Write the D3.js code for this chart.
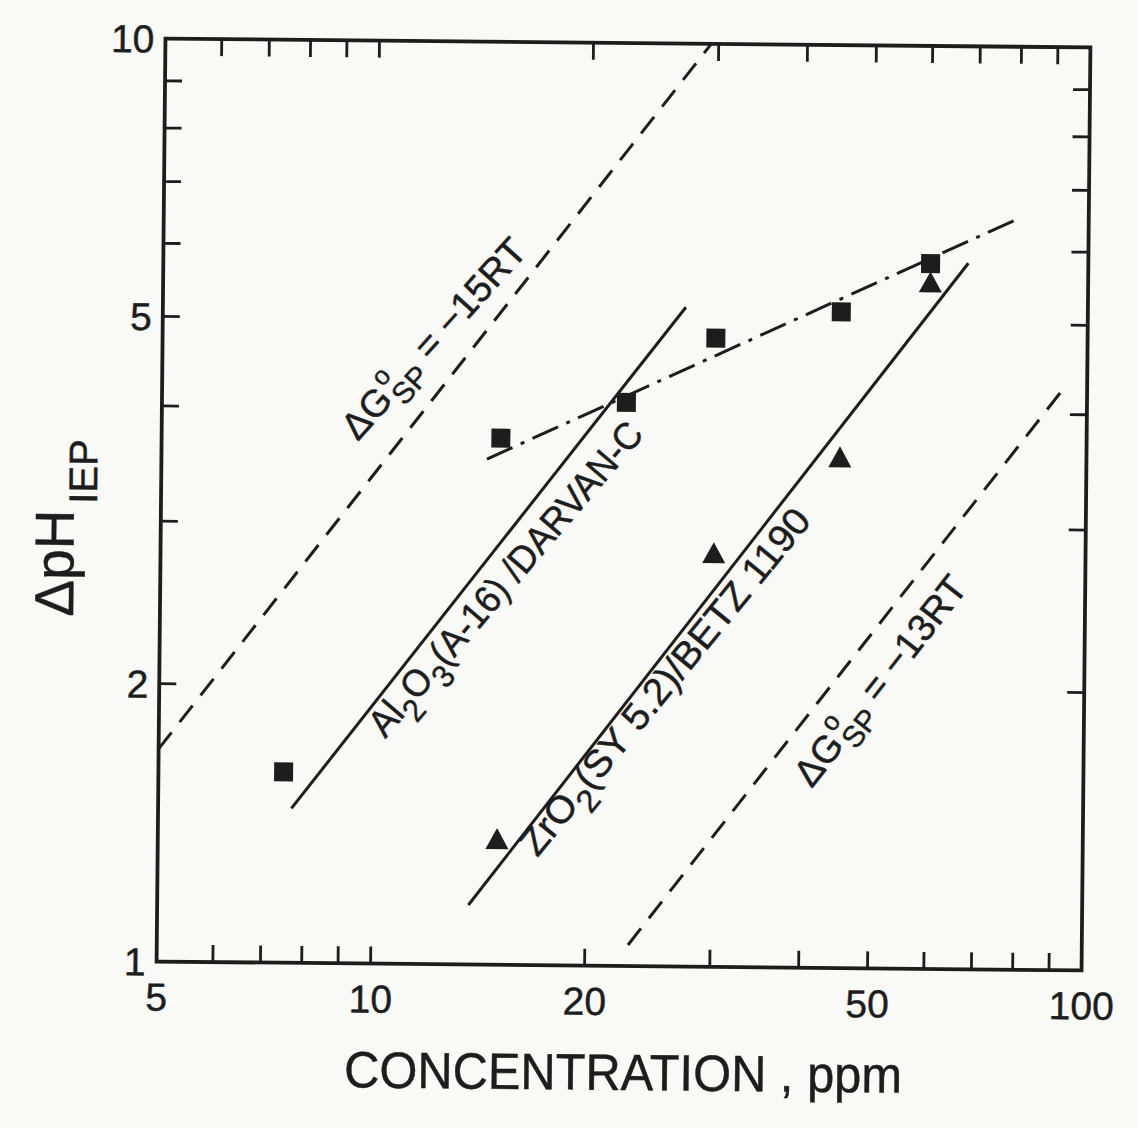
<!DOCTYPE html>
<html><head><meta charset="utf-8">
<script src="https://cdn.jsdelivr.net/npm/d3@7"></script>
<style>body{margin:0;background:#f9f9f8;} svg{display:block;}</style>
</head><body><svg id="c" width="1138" height="1128"></svg>
<script>
// ---- data ----
const xTickValues = [5, 10, 20, 50, 100];
const xTickLabels = ["5", "10", "20", "50", "100"];
const xMinorTicks = [6, 7, 8, 9, 10, 20, 30, 40, 50, 60, 70, 80, 90];
const yTickValues = [1, 2, 5, 10];
const yTickLabels = ["1", "2", "5", "10"];
const yMinorTicks = [2, 3, 4, 5, 6, 7, 8, 9];

const al2o3Conc = [7.5, 15, 22.5, 30, 45, 60];
const al2o3DpH  = [1.61, 3.72, 4.08, 4.80, 5.14, 5.81];
const zro2Conc  = [15, 30, 45, 60];
const zro2DpH   = [1.37, 2.81, 3.58, 5.55];

const al2o3FitConc = [7.7, 27.2];  const al2o3FitDpH = [1.47, 5.18];
const zro2FitConc  = [13.7, 67.8]; const zro2FitDpH  = [1.16, 5.82];
const dashDotConc  = [14.35, 78.8]; const dashDotDpH = [3.53, 6.49];
const dg15Conc     = [5, 29.3];    const dg15DpH     = [1.70, 10];
const dg13Conc     = [23.0, 94];   const dg13DpH     = [1.054, 4.33];

const xTitle = "CONCENTRATION , ppm";
const al2o3Label = ["Al", "2", "O", "3", "(A-16) /DARVAN-C"];
const zro2Label  = ["ZrO", "2", "(SY 5.2)/BETZ 1190"];

// ---- layout ----
const L = 161, R = 1086, T = 43, B = 966;
const ink = "#1d1d1d";
const font = "'Liberation Sans', Arial, sans-serif";

const svg = d3.select("#c");
const root = svg.append("g").attr("transform", `rotate(0.55 ${(L+R)/2} ${(T+B)/2})`)
  .attr("font-family", font).attr("fill", ink);
const txt = root.append("g").attr("stroke", ink).attr("stroke-width", 0.45);

const x = d3.scaleLog().domain([5, 100]).range([L, R]);
const y = d3.scaleLog().domain([1, 10]).range([B, T]);

// frame
root.append("rect").attr("x", L).attr("y", T).attr("width", R - L).attr("height", B - T)
  .attr("fill", "none").attr("stroke", ink).attr("stroke-width", 3.8);

// ticks (inward, all four sides)
const tl = 17;
const tg = root.append("g").attr("stroke", ink).attr("stroke-width", 2.8);
xMinorTicks.forEach(v => {
  tg.append("line").attr("x1", x(v)).attr("x2", x(v)).attr("y1", B).attr("y2", B - tl);
  tg.append("line").attr("x1", x(v)).attr("x2", x(v)).attr("y1", T).attr("y2", T + tl);
});
yMinorTicks.forEach(v => {
  tg.append("line").attr("y1", y(v)).attr("y2", y(v)).attr("x1", L).attr("x2", L + tl);
  tg.append("line").attr("y1", y(v)).attr("y2", y(v)).attr("x1", R).attr("x2", R - tl);
});

// tick labels
xTickValues.forEach((v, i) => {
  txt.append("text").attr("x", x(v)).attr("y", B + 49).attr("text-anchor", "middle")
    .attr("font-size", 39).text(xTickLabels[i]);
});
yTickValues.forEach((v, i) => {
  txt.append("text").attr("x", L - 11).attr("y", y(v) + 14).attr("text-anchor", "end")
    .attr("font-size", 39).text(yTickLabels[i]);
});

// axis titles
txt.append("text").attr("x", (L + R) / 2 + 5).attr("y", B + 124).attr("text-anchor", "middle")
  .attr("font-size", 51).attr("textLength", 558).attr("lengthAdjust", "spacingAndGlyphs").text(xTitle);

const yt = txt.append("text").attr("transform", `translate(74,622) rotate(-90)`).attr("font-size", 55);
yt.append("tspan").text("ΔpH");
yt.append("tspan").attr("font-size", 40).attr("dx", 6).attr("dy", 23).text("IEP");

// lines
const lineGen = d3.line().x(d => x(d[0])).y(d => y(d[1]));
function drawLine(cs, vs, dash) {
  root.append("path").datum(cs.map((c, i) => [c, vs[i]])).attr("d", lineGen)
    .attr("fill", "none").attr("stroke", ink).attr("stroke-width", 3)
    .attr("stroke-dasharray", dash);
}
drawLine(dg15Conc, dg15DpH, "21,13");
drawLine(dg13Conc, dg13DpH, "21,13");
drawLine(al2o3FitConc, al2o3FitDpH, null);
drawLine(zro2FitConc, zro2FitDpH, null);
drawLine(dashDotConc, dashDotDpH, "28,9,4,9");

// markers
const sq = 19;
root.append("g").selectAll("rect").data(al2o3Conc.map((c, i) => [c, al2o3DpH[i]])).join("rect")
  .attr("x", d => x(d[0]) - sq / 2).attr("y", d => y(d[1]) - sq / 2)
  .attr("width", sq).attr("height", sq).attr("fill", ink);
const tw = 23, th = 21;
root.append("g").selectAll("path").data(zro2Conc.map((c, i) => [c, zro2DpH[i]])).join("path")
  .attr("d", d => {
    const cx = x(d[0]), cy = y(d[1]);
    return `M${cx - tw / 2},${cy + th / 2}L${cx + tw / 2},${cy + th / 2}L${cx},${cy - th / 2}Z`;
  }).attr("fill", ink);

// in-plot labels (anchors in data coords)
function labelGroup(cx, cy, ang) {
  return txt.append("g").attr("transform", `translate(${x(cx)},${y(cy)}) rotate(${-ang})`);
}
function dgLabel(cx, cy, ang, val) {
  const t = labelGroup(cx, cy, ang).append("text").attr("font-size", 38);
  t.append("tspan").text("ΔG");
  t.append("tspan").attr("font-size", 26).attr("dx", 2).attr("dy", -18).text("o");
  t.append("tspan").attr("font-size", 30).attr("dx", -14).attr("dy", 29).text("SP");
  t.append("tspan").attr("dy", -11).text(" = −" + val + "RT");
}
dgLabel(9.44, 3.673, 48.5, "15");
dgLabel(41.5, 1.562, 52.5, "13");

const a = labelGroup(10.41, 1.751, 50).append("text").attr("font-size", 38)
  .attr("textLength", 400).attr("lengthAdjust", "spacingAndGlyphs");
a.append("tspan").text(al2o3Label[0]);
a.append("tspan").attr("font-size", 32).attr("dy", 14).text(al2o3Label[1]);
a.append("tspan").attr("dy", -14).text(al2o3Label[2]);
a.append("tspan").attr("font-size", 32).attr("dy", 14).text(al2o3Label[3]);
a.append("tspan").attr("dy", -14).text(al2o3Label[4]);

const z = labelGroup(17.1, 1.306, 51.3).append("text").attr("font-size", 38)
  .attr("textLength", 435).attr("lengthAdjust", "spacingAndGlyphs");
z.append("tspan").text(zro2Label[0]);
z.append("tspan").attr("font-size", 32).attr("dy", 14).text(zro2Label[1]);
z.append("tspan").attr("dy", -14).text(zro2Label[2]);
</script></body></html>
